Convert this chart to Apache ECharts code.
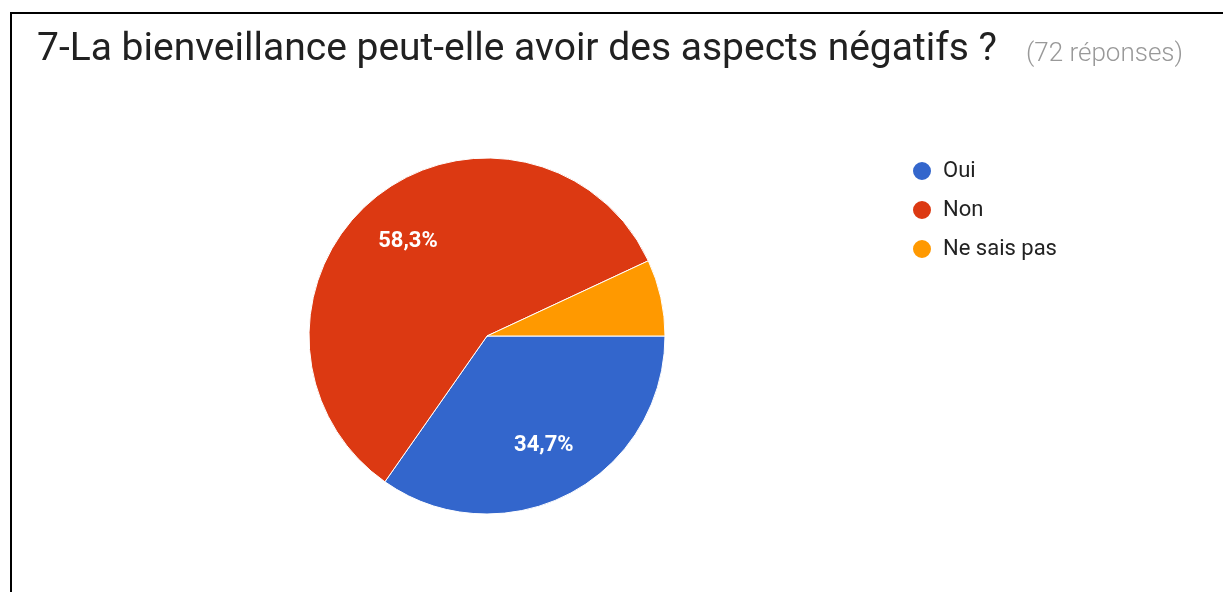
<!DOCTYPE html>
<html>
<head>
<meta charset="utf-8">
<script src="https://cdn.jsdelivr.net/npm/echarts@6/dist/echarts.min.js"></script>
<style>
  html, body { margin: 0; padding: 0; background: #fff; }
  #chart { width: 1223px; height: 592px; }
  #frame {
    position: absolute; left: 10px; top: 12px; width: 1300px; height: 700px;
    border-left: 2px solid #000; border-top: 2px solid #000; pointer-events: none;
  }
</style>
</head>
<body>
<div id="chart"></div>
<div id="frame"></div>
<script>
// réponses au sondage (72 au total)
const categories = ['Oui', 'Non', 'Ne sais pas'];
const counts = [25, 42, 5];
const colors = ['#3366cc', '#dc3912', '#ff9900'];

const pieData = categories.map((name, i) => ({ name, value: counts[i] }));
// les petites parts (< 10 %) n'affichent pas de pourcentage
const fmtPct = p => p.percent < 10 ? '' : p.percent.toFixed(1).replace('.', ',') + '%';

const chart = echarts.init(document.getElementById('chart'), null, { renderer: 'canvas' });
chart.setOption({
  backgroundColor: '#fff',
  color: colors,
  animation: false,
  title: [
    {
      text: '7-La bienveillance peut-elle avoir des aspects négatifs ?',
      left: 32, top: 26,
      textStyle: { fontFamily: 'Roboto', fontSize: 39, fontWeight: 'normal', color: '#212121' },
    },
    {
      text: '(72 réponses)',
      left: 1021, top: 36,
      textStyle: { fontFamily: 'Roboto', fontSize: 26, fontWeight: 300, color: '#999' },
    },
  ],
  legend: {
    orient: 'vertical', left: 906, top: 155,
    data: categories,
    icon: 'circle', itemWidth: 20, itemHeight: 20, itemGap: 17,
    textStyle: { fontFamily: 'Roboto', fontSize: 22, color: '#222', padding: [0, 0, 0, 6] },
  },
  series: [
    {
      type: 'pie',
      center: [487, 336], radius: 178,
      startAngle: 0, clockwise: true,
      data: pieData,
      itemStyle: { borderColor: '#fff', borderWidth: 1 },
      label: { show: false }, labelLine: { show: false },
      emphasis: { disabled: true },
    },
    {
      // calque transparent : place les pourcentages à ~2/3 du rayon
      type: 'pie', silent: true,
      center: [487, 336], radius: 240,
      startAngle: 0, clockwise: true,
      data: pieData,
      itemStyle: { color: 'rgba(0,0,0,0)' },
      label: {
        show: true, position: 'inside', formatter: fmtPct,
        fontFamily: 'Roboto', fontSize: 22, fontWeight: 'bold', color: '#fff',
      },
      labelLine: { show: false },
      emphasis: { disabled: true },
    },
  ],
});
</script>
</body>
</html>
